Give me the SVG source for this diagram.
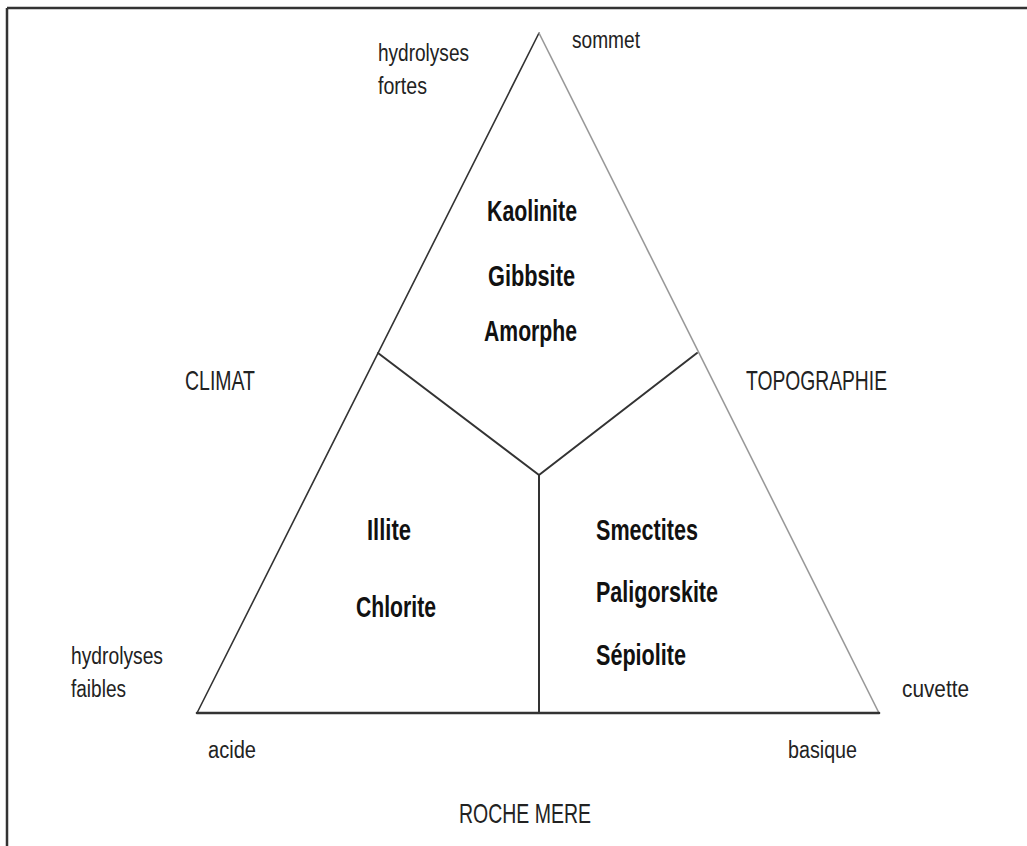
<svg xmlns="http://www.w3.org/2000/svg" width="1027" height="846" viewBox="0 0 1027 846">
<style>
.lbl{font-family:"Liberation Sans",Arial,sans-serif;font-size:23px;fill:#222}
.cap{font-family:"Liberation Sans",Arial,sans-serif;font-size:28px;fill:#222}
.min{font-family:"Liberation Sans",Arial,sans-serif;font-size:29px;font-weight:bold;fill:#111}
.ln{stroke:#333;fill:none;stroke-linecap:round}
</style>
<rect x="0" y="0" width="1027" height="846" fill="#fff"/>
<g id="frame">
<line x1="7" y1="8" x2="1027" y2="8" stroke="#333" stroke-width="2.5"/>
<line x1="7" y1="8" x2="7" y2="846" stroke="#333" stroke-width="2.5"/>
</g>
<g id="connectors">
<line class="ln" x1="539" y1="33" x2="197" y2="713" stroke-width="1.6"/>
<line x1="539" y1="33" x2="879" y2="713" stroke="#999" stroke-width="1.6"/>
<line class="ln" x1="197" y1="713" x2="879" y2="713" stroke-width="2.6"/>
<line class="ln" x1="378" y1="353" x2="539" y2="475" stroke-width="2"/>
<line class="ln" x1="697" y1="353" x2="539" y2="475" stroke-width="2"/>
<line class="ln" x1="539" y1="475" x2="539" y2="713" stroke-width="2"/>
</g>
<g id="zone-top">
<text class="min" x="487" y="221" textLength="90" lengthAdjust="spacingAndGlyphs">Kaolinite</text>
<text class="min" x="488" y="286" textLength="87" lengthAdjust="spacingAndGlyphs">Gibbsite</text>
<text class="min" x="484" y="341" textLength="93" lengthAdjust="spacingAndGlyphs">Amorphe</text>
</g>
<g id="zone-left">
<text class="min" x="367" y="540" textLength="44" lengthAdjust="spacingAndGlyphs">Illite</text>
<text class="min" x="356" y="617" textLength="80" lengthAdjust="spacingAndGlyphs">Chlorite</text>
</g>
<g id="zone-right">
<text class="min" x="596" y="540" textLength="102" lengthAdjust="spacingAndGlyphs">Smectites</text>
<text class="min" x="596" y="602" textLength="122" lengthAdjust="spacingAndGlyphs">Paligorskite</text>
<text class="min" x="596" y="665" textLength="90" lengthAdjust="spacingAndGlyphs">Sépiolite</text>
</g>
<g id="apex-labels">
<text class="lbl" x="378" y="61" textLength="91" lengthAdjust="spacingAndGlyphs">hydrolyses</text>
<text class="lbl" x="378" y="94" textLength="49" lengthAdjust="spacingAndGlyphs">fortes</text>
<text class="lbl" x="572" y="48" textLength="68" lengthAdjust="spacingAndGlyphs">sommet</text>
</g>
<g id="left-labels">
<text class="cap" x="185" y="390" textLength="70" lengthAdjust="spacingAndGlyphs">CLIMAT</text>
<text class="lbl" x="71" y="664" textLength="92" lengthAdjust="spacingAndGlyphs">hydrolyses</text>
<text class="lbl" x="71" y="697" textLength="55" lengthAdjust="spacingAndGlyphs">faibles</text>
<text class="lbl" x="208" y="758" textLength="48" lengthAdjust="spacingAndGlyphs">acide</text>
</g>
<g id="right-labels">
<text class="cap" x="746" y="390" textLength="141" lengthAdjust="spacingAndGlyphs">TOPOGRAPHIE</text>
<text class="lbl" x="902" y="697" textLength="67" lengthAdjust="spacingAndGlyphs">cuvette</text>
<text class="lbl" x="788" y="758" textLength="69" lengthAdjust="spacingAndGlyphs">basique</text>
</g>
<g id="base-label">
<text class="cap" x="459" y="823" textLength="132" lengthAdjust="spacingAndGlyphs">ROCHE MERE</text>
</g>
</svg>
